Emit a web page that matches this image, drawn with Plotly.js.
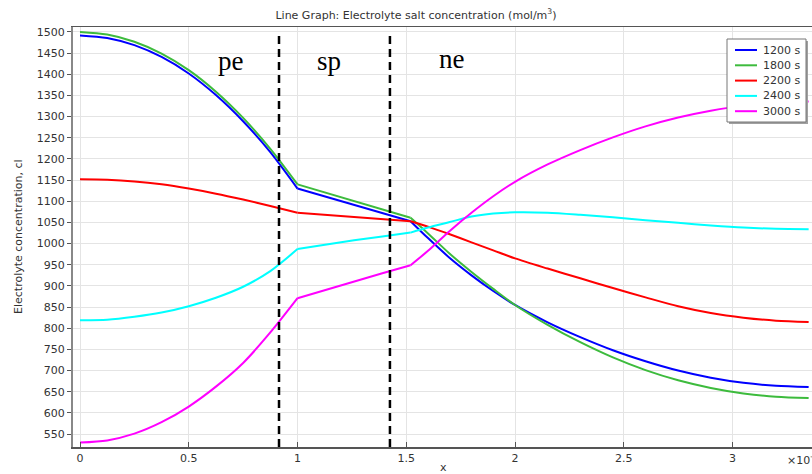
<!DOCTYPE html>
<html>
<head>
<meta charset="utf-8">
<script src="https://cdn.plot.ly/plotly-3.0.1.min.js"></script>
<style>html,body{margin:0;padding:0;background:#fff;}#chart{width:812px;height:474px;}</style>
</head>
<body>
<div id="chart"></div>
<script>
// x coordinate (×10^-4)
const xPos = [0, 0.125, 0.25, 0.375, 0.5, 0.625, 0.75, 0.875, 1.0, 1.13, 1.26, 1.39, 1.52, 1.6, 1.7, 1.8, 1.9, 2.0, 2.15, 2.3, 2.45, 2.6, 2.75, 2.9, 3.05, 3.2, 3.35];
const c1200 = [1492, 1486, 1469, 1441, 1402, 1351, 1289, 1216, 1130, 1111, 1092, 1072, 1053, 1013, 966, 925, 888, 855, 814, 779, 748, 722, 700, 683, 671, 664, 661];
const c1800 = [1500, 1494, 1477, 1449, 1410, 1359, 1297, 1224, 1140, 1120, 1101, 1081, 1061, 1024, 976, 933, 893, 855, 808, 767, 731, 701, 677, 659, 646, 638, 635];
const c2200 = [1152, 1151, 1147, 1140, 1130, 1118, 1104, 1089, 1073, 1068, 1063, 1058, 1053, 1040, 1022, 1003, 984, 965, 941, 918, 895, 873, 852, 836, 825, 818, 815];
const c2400 = [819, 820, 827, 837, 852, 872, 898, 935, 987, 998, 1008, 1017, 1026, 1038, 1051, 1064, 1071, 1074, 1073, 1068, 1062, 1055, 1049, 1043, 1038, 1035, 1034];
const c3000 = [530, 535, 551, 578, 615, 662, 718, 790, 871, 891, 910, 930, 949, 983, 1030, 1073, 1112, 1146, 1187, 1221, 1251, 1277, 1298, 1314, 1326, 1333, 1336];
const seriesNames = ['1200 s', '1800 s', '2200 s', '2400 s', '3000 s'];
const seriesColors = ['#0000ff', '#3dbb3d', '#ff0000', '#00ffff', '#ff00ff'];
const seriesData = [c1200, c1800, c2200, c2400, c3000];
// region boundaries (dashed) and region labels
const boundaries = [0.915, 1.425];
const regionLabels = ['pe', 'sp', 'ne'];
const regionX = [0.694, 1.145, 1.71];
const regionY = [1431, 1431, 1436];
// domain segments (index ranges) : pe-side, separator-side, ne-side
const segments = [[0, 8, 'spline'], [8, 12, 'linear'], [12, 26, 'spline']];

// plot-area pixel helpers for legend placement
const PL = 73, PW = 739, PB = 447, PH = 420;
const px = v => (v - PL) / PW;
const py = v => (PB - v) / PH;

const traces = [];
seriesNames.forEach((n, i) => {
  segments.forEach(([a, b, shape]) => {
    traces.push({
      x: xPos.slice(a, b + 1), y: seriesData[i].slice(a, b + 1), name: n, type: 'scatter', mode: 'lines',
      line: {color: seriesColors[i], width: 2, shape: shape, smoothing: 0.8}, showlegend: false
    });
  });
});

const shapes = boundaries.map(b => ({
  type: 'line', xref: 'x', yref: 'y', x0: b, x1: b, y0: 519.4, y1: 1501,
  line: {color: '#000', width: 2.5, dash: '8px,5px'}
}));
// custom legend (box + shadow + samples)
shapes.push({type: 'rect', xref: 'paper', yref: 'paper', x0: px(729), x1: px(808), y0: py(124), y1: py(41),
  fillcolor: '#a0a0a0', line: {width: 0}, layer: 'above'});
shapes.push({type: 'rect', xref: 'paper', yref: 'paper', x0: px(727), x1: px(806), y0: py(122), y1: py(39),
  fillcolor: '#fff', line: {color: '#777', width: 1}, layer: 'above'});
const annotations = [];
seriesNames.forEach((n, i) => {
  const yy = 50 + i * 15.3;
  shapes.push({type: 'line', xref: 'paper', yref: 'paper', x0: px(735), x1: px(757), y0: py(yy), y1: py(yy),
    line: {color: seriesColors[i], width: 2}, layer: 'above'});
  annotations.push({xref: 'paper', yref: 'paper', x: px(761), y: py(yy), text: n, showarrow: false,
    xanchor: 'left', yanchor: 'middle', font: {family: 'DejaVu Sans', size: 11, color: '#333'}});
});

regionLabels.forEach((t, i) => annotations.push({
  x: regionX[i], y: regionY[i], xref: 'x', yref: 'y', text: t, showarrow: false,
  font: {family: 'Liberation Serif, Times New Roman, serif', size: 27, color: '#000'}
}));
annotations.push({xref: 'paper', yref: 'paper', x: px(443), y: py(467.5),
  text: 'x', showarrow: false, font: {family: 'DejaVu Sans', size: 11, color: '#333'}, yanchor: 'middle'});
annotations.push({xref: 'paper', yref: 'paper', x: px(785), y: py(460),
  text: '×10<sup>-4</sup>', showarrow: false, xanchor: 'left', yanchor: 'middle',
  font: {family: 'DejaVu Sans', size: 11, color: '#333'}});
annotations.push({xref: 'paper', yref: 'paper', x: px(18), y: 0.5, textangle: -90,
  text: 'Electrolyte concentration, cl', showarrow: false, xanchor: 'center', yanchor: 'middle',
  font: {family: 'DejaVu Sans', size: 11, color: '#333'}});

const layout = {
  width: 812, height: 474,
  margin: {l: 73, r: 0, t: 27, b: 27},
  paper_bgcolor: '#fff', plot_bgcolor: '#fff',
  font: {family: 'DejaVu Sans, sans-serif', size: 11, color: '#333'},
  title: {text: 'Line Graph: Electrolyte salt concentration (mol/m<sup>3</sup>)',
    xref: 'container', yref: 'container', x: 416 / 812, y: 1 - 15 / 474,
    xanchor: 'center', yanchor: 'middle', font: {family: 'DejaVu Sans', size: 11, color: '#333'}},
  xaxis: {range: [-7 / 217.5, 732 / 217.5], dtick: 0.5, tick0: 0, showgrid: true, gridcolor: '#e4e4e4',
    zeroline: false, showline: true, linecolor: '#555', linewidth: 1.5, mirror: true,
    ticks: 'inside', ticklen: 5, tickcolor: '#555', tickfont: {size: 11, color: '#333'},
    title: {text: ''}},
  yaxis: {range: [519.4, 1511.8], dtick: 50, tick0: 0, showgrid: true, gridcolor: '#e4e4e4',
    zeroline: false, showline: true, linecolor: '#888', linewidth: 2,
    ticks: 'outside', ticklen: 4, tickcolor: '#555', tickfont: {size: 11, color: '#333'},
    title: {text: ''}},
  showlegend: false,
  shapes: shapes,
  annotations: annotations
};
Plotly.newPlot('chart', traces, layout, {displayModeBar: false, staticPlot: true});
</script>
</body>
</html>
